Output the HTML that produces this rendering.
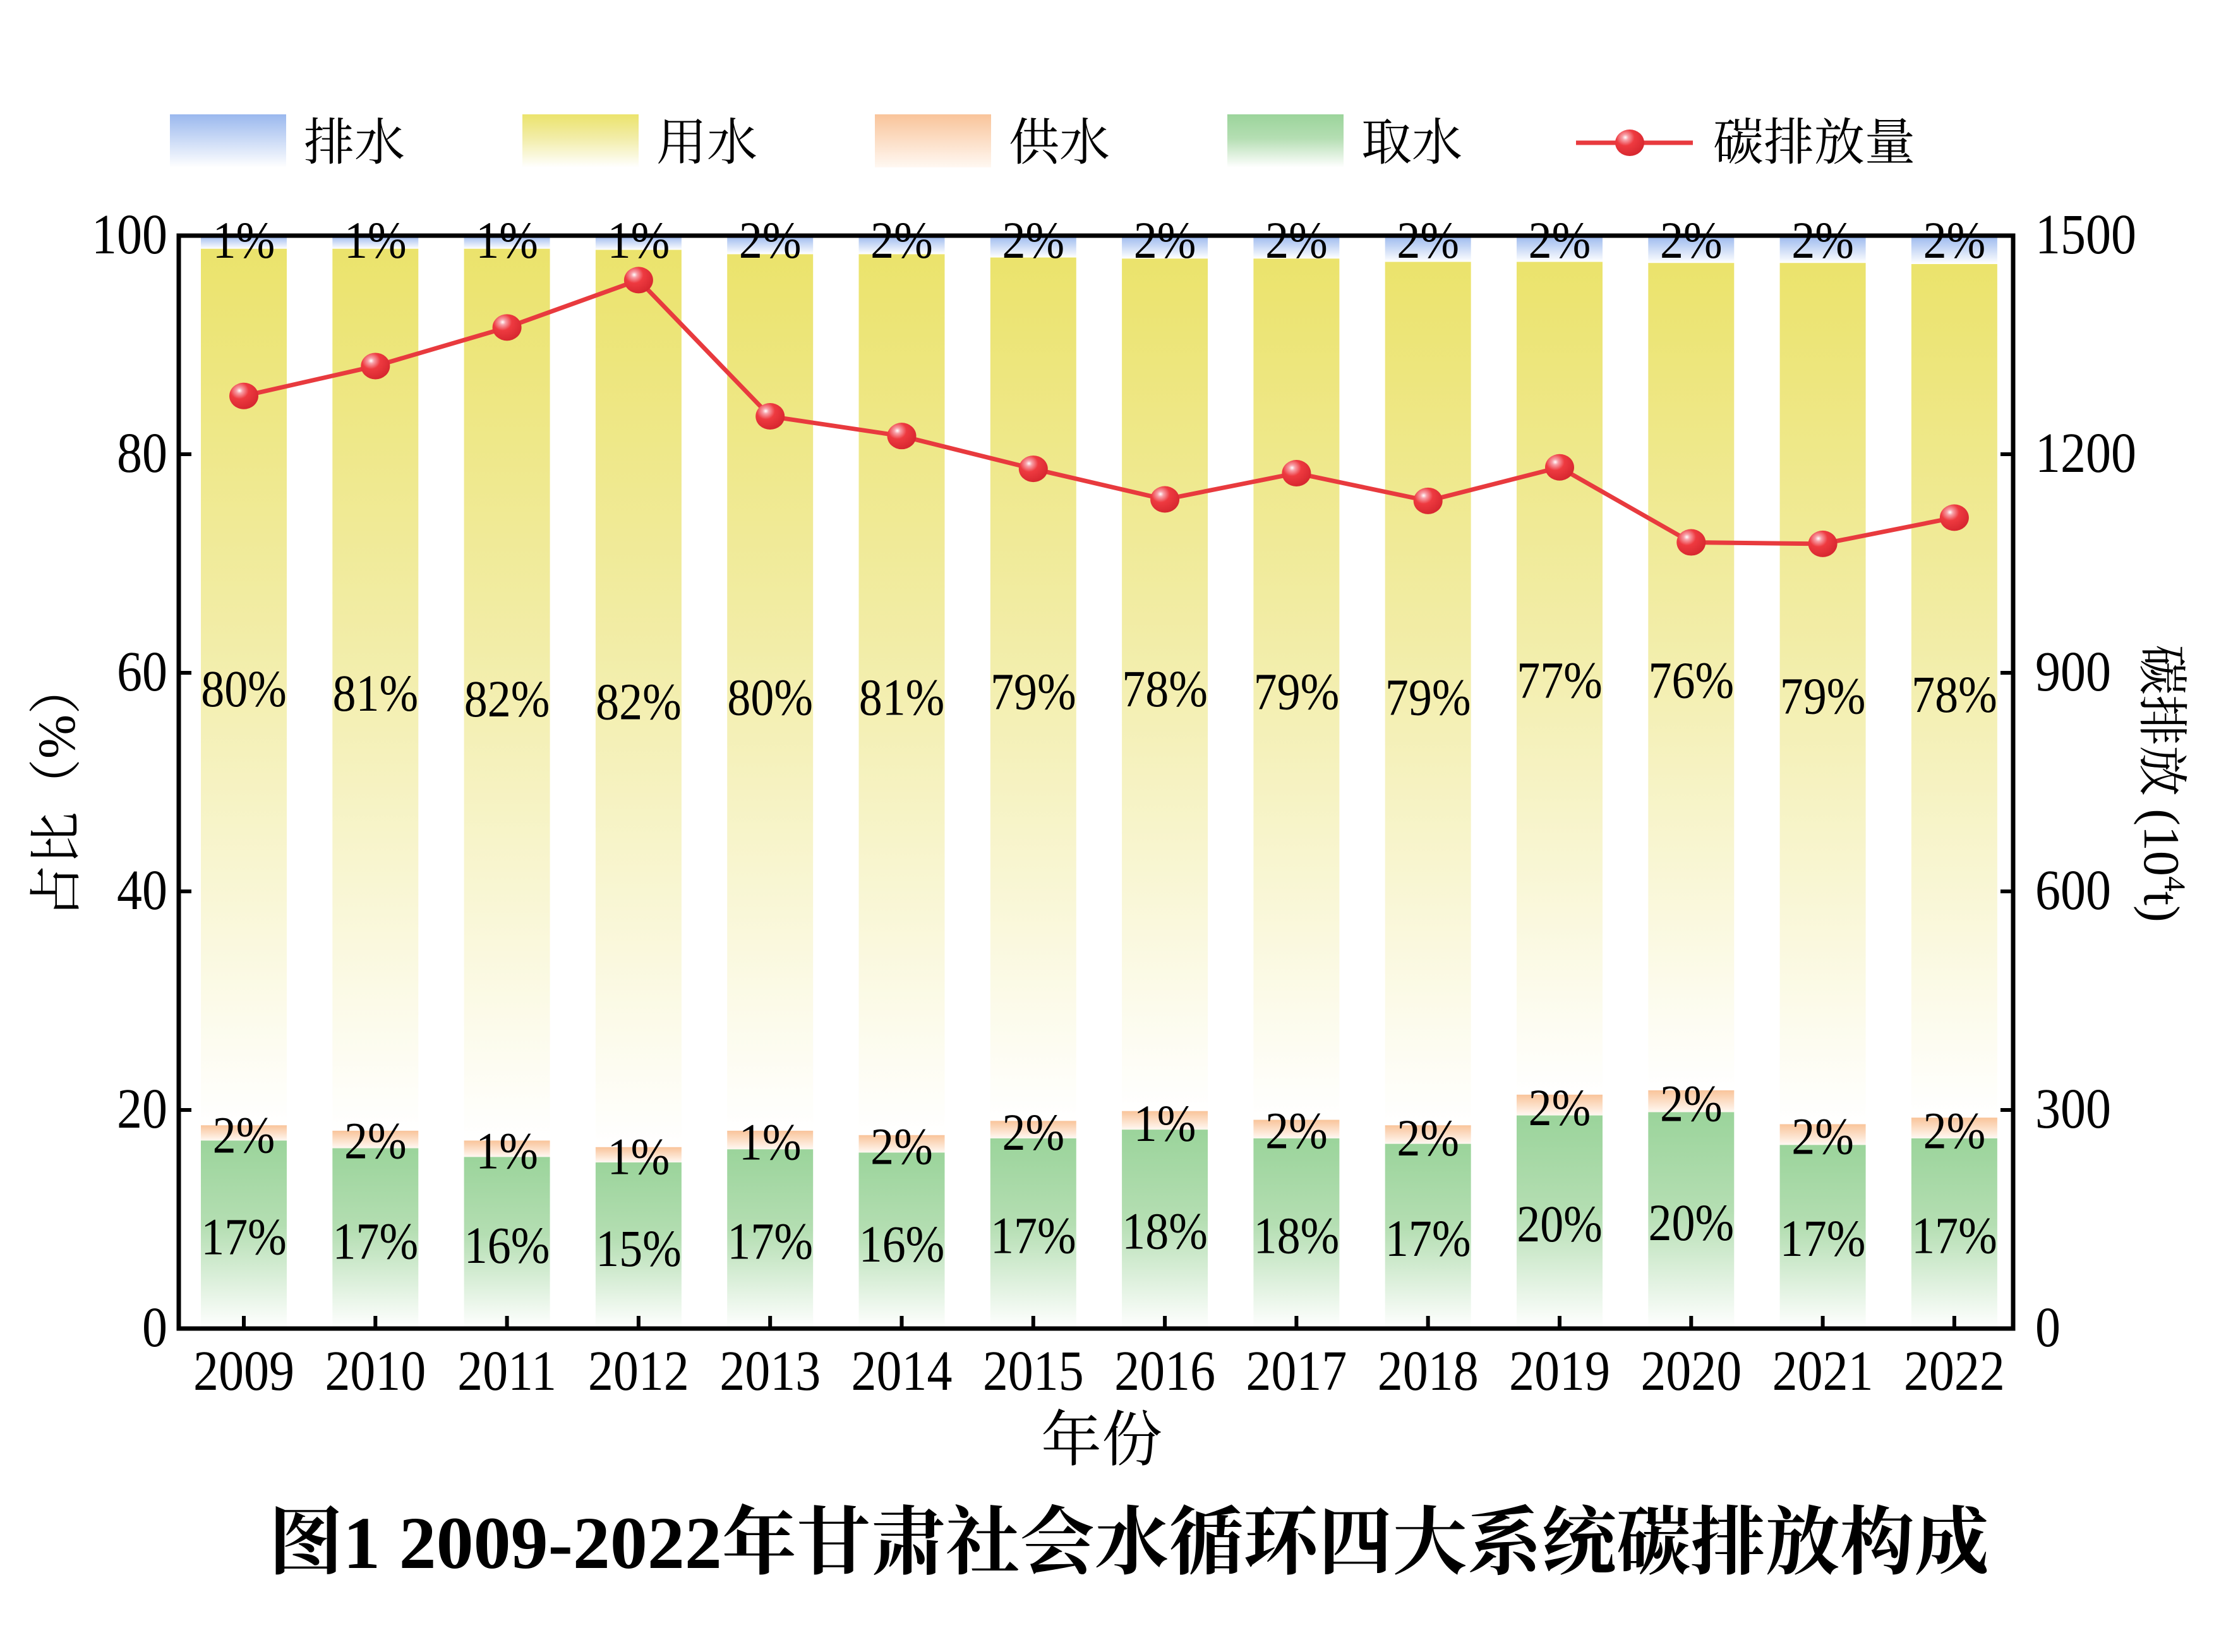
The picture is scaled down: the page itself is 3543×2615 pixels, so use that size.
<!DOCTYPE html>
<html><head><meta charset="utf-8"><style>
html,body{margin:0;padding:0;background:#fff;}
svg{display:block;}
text{font-family:"Liberation Serif","Noto Serif CJK SC",serif;}
</style></head><body>
<svg id="s" xmlns="http://www.w3.org/2000/svg" width="3543" height="2615" viewBox="0 0 3543 2615">
<defs>
<linearGradient id="gB" x1="0" y1="0" x2="0" y2="1"><stop offset="0" stop-color="#9ab8ee"/><stop offset="1" stop-color="#ffffff"/></linearGradient>
<linearGradient id="gY" x1="0" y1="0" x2="0" y2="1"><stop offset="0" stop-color="#ebe36c"/><stop offset="0.45" stop-color="#f2eda8"/><stop offset="1" stop-color="#ffffff"/></linearGradient>
<linearGradient id="gO" x1="0" y1="0" x2="0" y2="1"><stop offset="0" stop-color="#f9c49a"/><stop offset="1" stop-color="#fff8f2"/></linearGradient>
<linearGradient id="gG" x1="0" y1="0" x2="0" y2="1"><stop offset="0" stop-color="#9bd49b"/><stop offset="0.45" stop-color="#b4deb2"/><stop offset="1" stop-color="#ffffff"/></linearGradient>
<radialGradient id="gM" cx="0.35" cy="0.3" r="0.7"><stop offset="0" stop-color="#ffffff"/><stop offset="0.15" stop-color="#f7a0a8"/><stop offset="0.45" stop-color="#ee3a40"/><stop offset="1" stop-color="#d82830"/></radialGradient>
</defs>
<g id="plot"></g>
</svg>
<script>
var L=283,R=3187,T=373,B=2103,H=B-T;
function y(v){return B-v*H/100;}
function yc(v){return B-v*H/1500;}
var g=document.getElementById('plot'),h='';
var G=[17.2,16.5,15.7,15.2,16.4,16.1,17.4,18.2,17.4,16.9,19.5,19.8,16.8,17.4];
var O=[18.6,18.1,17.2,16.6,18.1,17.7,19.0,19.9,19.1,18.6,21.4,21.8,18.7,19.3];
var Yt=[98.8,98.8,98.8,98.7,98.3,98.3,98.0,97.9,97.9,97.6,97.6,97.5,97.5,97.4];
var C=[1280,1321,1374,1439,1252,1225,1180,1138,1174,1136,1182,1079,1077,1113];
var tl=['1%','1%','1%','1%','2%','2%','2%','2%','2%','2%','2%','2%','2%','2%'];
var ml=['80%','81%','82%','82%','80%','81%','79%','78%','79%','79%','77%','76%','79%','78%'];
var mly=[480,483,487,489,486,486,482,480,482,486,474,474,485,484];
var ol=['2%','2%','1%','1%','1%','2%','2%','1%','2%','2%','2%','2%','2%','2%'];
var oly=[791,795,802,806,796,799,789,783,788,793,772,769,792,788];
var bl=['17%','17%','16%','15%','17%','16%','17%','18%','18%','17%','20%','20%','17%','17%'];
var bly=[862,865,868,870,865,867,861,858,861,863,853,852,863,861];
var bw=136,sp=208.3;
function lab(cx,cy,s,fs){return '<text transform="translate('+cx+','+cy+') scale(1,1.12)" font-size="'+fs+'" text-anchor="middle">'+s+'</text>';}
for(var i=0;i<14;i++){
 var cx=386+sp*i,x=cx-bw/2;
 h+='<rect x="'+x+'" y="'+y(100)+'" width="'+bw+'" height="'+(y(Yt[i])-y(100))+'" fill="url(#gB)"/>';
 h+='<rect x="'+x+'" y="'+y(Yt[i])+'" width="'+bw+'" height="'+(y(O[i])-y(Yt[i]))+'" fill="url(#gY)"/>';
 h+='<rect x="'+x+'" y="'+y(O[i])+'" width="'+bw+'" height="'+(y(G[i])-y(O[i]))+'" fill="url(#gO)"/>';
 h+='<rect x="'+x+'" y="'+y(G[i])+'" width="'+bw+'" height="'+(y(0)-y(G[i]))+'" fill="url(#gG)"/>';
}
for(var i=0;i<14;i++){
 var cx=386+sp*i;
 h+=lab(cx,408,tl[i],74);
 h+=lab(cx,mly[i]*2.271+28,ml[i],74);
 h+=lab(cx,oly[i]*2.271+28,ol[i],74);
 h+=lab(cx,bly[i]*2.271+28,bl[i],74);
}
var pts=[];for(var i=0;i<14;i++)pts.push((386+sp*i)+','+yc(C[i]));
h+='<polyline points="'+pts.join(' ')+'" fill="none" stroke="#e83a3e" stroke-width="7"/>';
for(var i=0;i<14;i++)h+='<ellipse cx="'+(386+sp*i)+'" cy="'+yc(C[i])+'" rx="23" ry="21" fill="url(#gM)"/>';
h+='<rect x="'+L+'" y="'+T+'" width="'+(R-L)+'" height="'+H+'" fill="none" stroke="#000" stroke-width="7"/>';
for(var v=0;v<=100;v+=20){var yy=y(v);
 h+='<line x1="'+L+'" x2="'+(L+20)+'" y1="'+yy+'" y2="'+yy+'" stroke="#000" stroke-width="6"/>';
 h+='<text transform="translate('+(L-18)+','+(yy+28)+') scale(1,1.12)" font-size="80" text-anchor="end">'+v+'</text>';}
for(var v=0;v<=1500;v+=300){var yy=yc(v);
 h+='<line x1="'+(R-20)+'" x2="'+R+'" y1="'+yy+'" y2="'+yy+'" stroke="#000" stroke-width="6"/>';
 h+='<text transform="translate('+(R+35)+','+(yy+28)+') scale(1,1.12)" font-size="80">'+v+'</text>';}
for(var i=0;i<14;i++){var cx=386+sp*i;
 h+='<line x1="'+cx+'" x2="'+cx+'" y1="'+(B-20)+'" y2="'+B+'" stroke="#000" stroke-width="6"/>';
 h+='<text transform="translate('+cx+','+(B+97)+') scale(1,1.12)" font-size="80" text-anchor="middle">'+(2009+i)+'</text>';}
var lg=[['排水','gB'],['用水','gY'],['供水','gO'],['取水','gG']];
for(var k=0;k<4;k++){var lx=269+558*k;
 h+='<rect x="'+lx+'" y="181" width="184" height="84" fill="url(#'+lg[k][1]+')"/>';
 h+='<text x="'+(lx+212)+'" y="253" font-size="80">'+lg[k][0]+'</text>';}
h+='<line x1="2495" x2="2680" y1="226" y2="226" stroke="#e83a3e" stroke-width="7"/>';
h+='<ellipse cx="2580" cy="226" rx="23" ry="21" fill="url(#gM)"/>';
h+='<text x="2712" y="253" font-size="80">碳排放量</text>';
h+='<text transform="translate(118,1250) rotate(-90)" font-size="84" text-anchor="middle">占比（%）</text>';
h+='<text transform="translate(3395,1240) rotate(90)" font-size="80" text-anchor="middle">碳排放 (10<tspan font-size="48" dy="-32">4</tspan><tspan dy="32">t)</tspan></text>';
h+='<text x="1744" y="2312" font-size="96" text-anchor="middle">年份</text>';
h+='<text x="1787" y="2482" font-size="118" font-weight="bold" text-anchor="middle">图1 2009-2022年甘肃社会水循环四大系统碳排放构成</text>';
g.innerHTML=h;
</script>
</body></html>
